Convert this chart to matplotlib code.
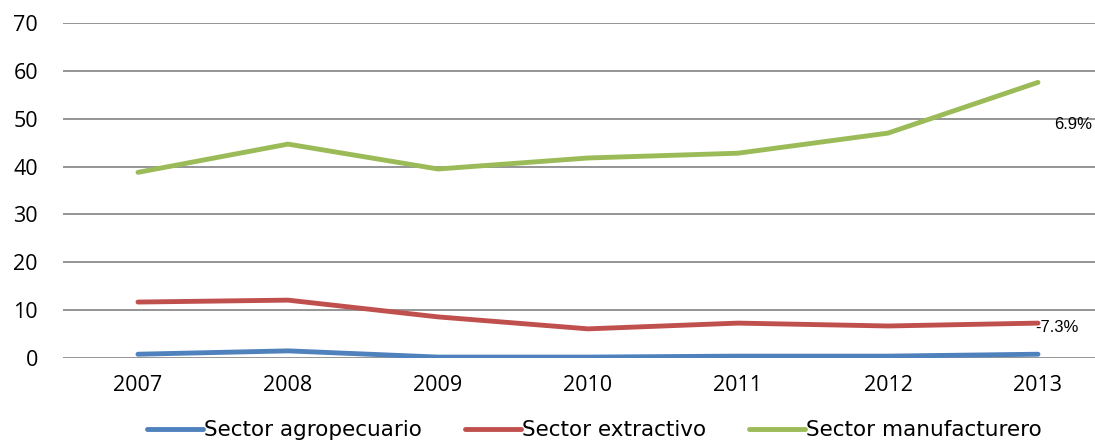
import matplotlib.pyplot as plt
from matplotlib.lines import Line2D

years = ['2007', '2008', '2009', '2010', '2011', '2012', '2013']
agro = [0.8, 1.5, 0.2, 0.2, 0.4, 0.4, 0.8]
extractivo = [11.7, 12.1, 8.6, 6.1, 7.3, 6.7, 7.3]
manufacturero = [38.8, 44.7, 39.5, 41.8, 42.8, 47.0, 57.6]
series_names = ['Sector agropecuario', 'Sector extractivo', 'Sector manufacturero']
colors = ['#4F81BD', '#C0504D', '#9BBB59']
end_labels = {'Sector manufacturero': '6.9%', 'Sector extractivo': '-7.3%'}

fig = plt.figure(figsize=(10.95, 4.47), dpi=100)
ax = fig.add_axes([0.0575, 0.199, 0.9425, 0.7495])

x = list(range(len(years)))
for name, vals, c in zip(series_names, [agro, extractivo, manufacturero], colors):
    ax.plot(x, vals, color=c, linewidth=3.5, solid_capstyle='round', zorder=3)

ax.set_xlim(-0.5, 6.38)
ax.set_ylim(0, 70)
ax.set_yticks(range(0, 71, 10))
ax.set_xticks(x)
ax.set_xticklabels(years)
ax.grid(axis='y', color='#8c8c8c', linewidth=1.3)
ax.set_axisbelow(True)
for s in ax.spines.values():
    s.set_visible(False)
ax.tick_params(length=0, labelsize=15.5)
ax.tick_params(axis='x', pad=12)
ax.tick_params(axis='y', pad=18)
for lab in ax.get_xticklabels() + ax.get_yticklabels():
    lab.set_family('Open Sans')

# end-of-line growth labels
ax.text(6.11, 48.8, end_labels['Sector manufacturero'], fontsize=12,
        family='Liberation Sans', va='center', ha='left')
ax.text(5.98, 6.3, end_labels['Sector extractivo'], fontsize=12,
        family='Liberation Sans', va='center', ha='left')

handles = [Line2D([], [], color=c, linewidth=3.5, solid_capstyle='round') for c in colors]
fig.legend(handles, series_names, loc='lower center', bbox_to_anchor=(0.543, -0.028),
           ncol=3, frameon=False, handlelength=2.6, handletextpad=0.05,
           columnspacing=2.0, prop={'family': 'DejaVu Sans', 'size': 15.5})

fig.savefig('out.png', dpi=100)
